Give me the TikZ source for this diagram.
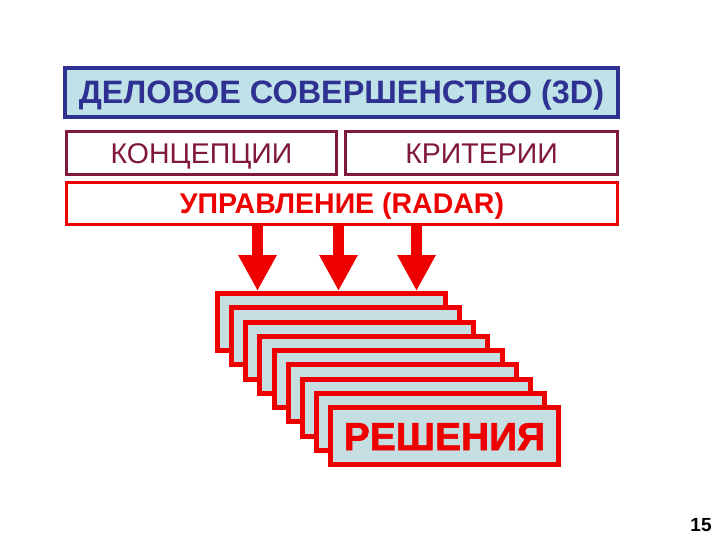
\documentclass[tikz,border=0pt]{standalone}
\usepackage{fontspec}
\setmainfont{Liberation Sans}
\newfontfamily\heavyfont[BoldFeatures={FakeBold=1.6}]{Liberation Sans}
\usetikzlibrary{arrows.meta}
\definecolor{titleblue}{HTML}{2E3192}
\definecolor{paleblue}{HTML}{BFE2E8}
\definecolor{stackfill}{HTML}{C4DEE2}
\definecolor{maroon}{HTML}{80183C}
\definecolor{brightred}{HTML}{EE0000}
\tikzset{
  titlebox/.style={draw=titleblue, fill=paleblue, line width=4.5pt, inner sep=0pt,
    minimum width=553pt, minimum height=49pt, text=titleblue,
    text height=23pt, text depth=0pt,
    font=\fontsize{32.4}{32.4}\selectfont\bfseries},
  subbox/.style={draw=maroon, line width=3pt, inner sep=0pt, minimum height=43pt,
    text=maroon, text height=20.4pt, text depth=0pt,
    font=\fontsize{28.5}{28.5}\selectfont},
  mgmtbox/.style={draw=brightred, line width=3pt, inner sep=0pt, minimum width=551pt,
    minimum height=42pt, text=brightred, text height=20.4pt, text depth=0pt,
    font=\fontsize{28.5}{28.5}\selectfont\bfseries},
  decibox/.style={draw=brightred, fill=stackfill, line width=5pt, inner sep=0pt,
    minimum width=228pt, minimum height=57pt, text=brightred,
    text height=28pt, text depth=0pt,
    font=\heavyfont\fontsize{39}{39}\selectfont\bfseries},
  blockarrow/.style={draw=brightred, line width=11pt,
    -{Triangle[width=36pt,length=36pt]}},
  pagenum/.style={font=\fontsize{19}{19}\selectfont\bfseries, inner sep=0pt}
}
\begin{document}
\begin{tikzpicture}[x=1pt,y=-1pt]
\useasboundingbox[fill=white] (0,0) rectangle (720,540);
\node[titlebox] (title) at (341.5,92.5) {ДЕЛОВОЕ СОВЕРШЕНСТВО (3D)};
\node[subbox, minimum width=270pt] (conc) at (201.5,153) {КОНЦЕПЦИИ};
\node[subbox, minimum width=272pt] (crit) at (481.5,153) {КРИТЕРИИ};
\node[mgmtbox] (mgmt) at (342,203.5) {УПРАВЛЕНИЕ (RADAR)};
\foreach \i in {0,...,7}
  \node[decibox] (d\i) at ({331.5+14.125*\i},{322+14.25*\i}) {};
\node[decibox] (d8) at ({331.5+14.125*8},{322+14.25*8}) {РЕШЕНИЯ};
\coordinate (a1s) at (257.5,226);
\coordinate (a2s) at (338.5,226);
\coordinate (a3s) at (416.5,226);
\draw[blockarrow] (a1s) -- (a1s |- d0.north);
\draw[blockarrow] (a2s) -- (a2s |- d0.north);
\draw[blockarrow] (a3s) -- (a3s |- d0.north);
\node[pagenum] (page) at (701,525) {15};
\end{tikzpicture}
\end{document}
